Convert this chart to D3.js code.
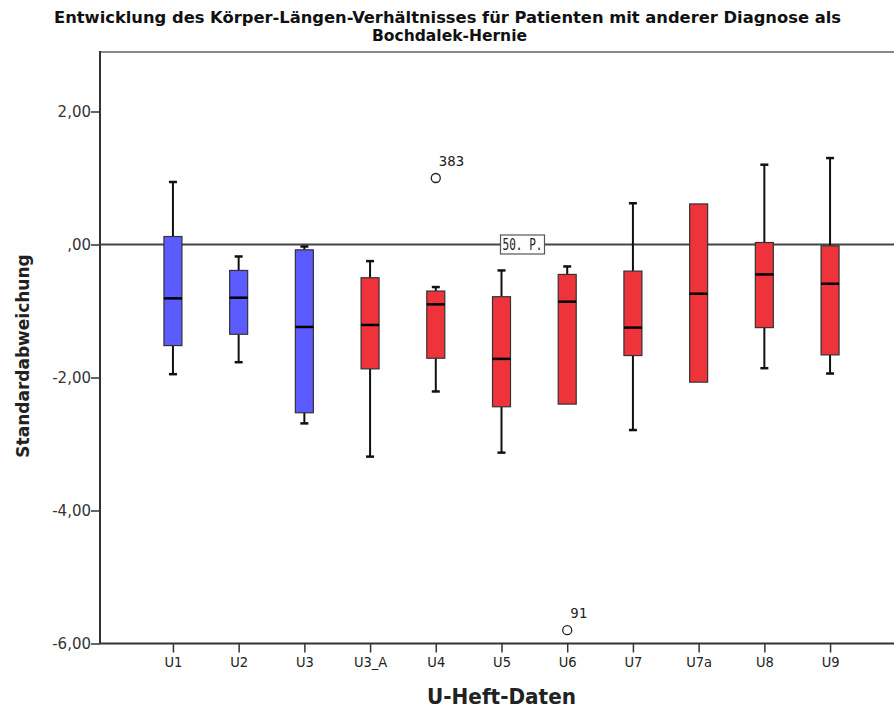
<!DOCTYPE html>
<html>
<head>
<meta charset="utf-8">
<script src="https://cdn.jsdelivr.net/npm/d3@7"></script>
<style>
  body { margin: 0; background: #fff; }
  svg { display: block; }
</style>
</head>
<body>
<div id="chart"></div>
<script>
// categories and box statistics
var categories = ["U1", "U2", "U3", "U3_A", "U4", "U5", "U6", "U7", "U7a", "U8", "U9"];
var whiskerLow  = [-1.95, -1.77, -2.69, -3.19, -2.21, -3.13, -2.40, -2.79, -2.07, -1.86, -1.94];
var q1          = [-1.52, -1.35, -2.53, -1.87, -1.71, -2.44, -2.40, -1.67, -2.07, -1.25, -1.66];
var median      = [-0.81, -0.80, -1.24, -1.21, -0.90, -1.72, -0.86, -1.25, -0.74, -0.45, -0.59];
var q3          = [ 0.12, -0.39, -0.08, -0.50, -0.70, -0.785, -0.45, -0.40, 0.61, 0.03, -0.02];
var whiskerHigh = [ 0.94, -0.18, -0.03, -0.25, -0.64, -0.39, -0.33, 0.62, 0.61, 1.20, 1.30];
var boxColor    = ["blue", "blue", "blue", "red", "red", "red", "red", "red", "red", "red", "red"];

// outliers
var outlierCat = ["U4", "U6"];
var outlierVal = [1.00, -5.80];
var outlierLabel = ["383", "91"];

var yTicks = [2, 0, -2, -4, -6];
var yTickLabels = ["2,00", ",00", "-2,00", "-4,00", "-6,00"];
var refValue = 0;

var W = 894, H = 711;
var margin = { top: 52, right: -9, bottom: 67, left: 100 };
var colors = { blue: "#5b5bff", red: "#ef333b" };

var svg = d3.select("#chart").append("svg")
    .attr("width", W)
    .attr("height", H);

var x = d3.scalePoint()
    .domain(categories)
    .range([margin.left, W - margin.right])
    .padding(1.11);

var y = d3.scaleLinear()
    .domain([-6, 2])
    .range([643.5, 111.5]);

// frame: top line + axes
svg.append("line")
    .attr("x1", margin.left).attr("x2", W)
    .attr("y1", margin.top).attr("y2", margin.top)
    .attr("stroke", "#888").attr("stroke-width", 2);

// y axis
var yAxis = svg.append("g")
    .attr("transform", "translate(" + margin.left + ",0)")
    .call(d3.axisLeft(y).tickValues(yTicks).tickSize(9)
        .tickFormat(function (d, i) { return yTickLabels[i]; }));
yAxis.select(".domain").remove();
yAxis.selectAll(".tick line").attr("stroke", "#333").attr("stroke-width", 1.5);
yAxis.selectAll(".tick text")
    .attr("font-family", "'DejaVu Sans', sans-serif")
    .attr("font-size", 15)
    .attr("fill", "#333")
    .attr("x", -9);
svg.append("line")
    .attr("x1", margin.left).attr("x2", margin.left)
    .attr("y1", margin.top - 1).attr("y2", y(-6))
    .attr("stroke", "#333").attr("stroke-width", 2);

// x axis
var xAxis = svg.append("g")
    .attr("transform", "translate(0," + y(-6) + ")")
    .call(d3.axisBottom(x).tickSize(9).tickSizeOuter(0));
xAxis.select(".domain").attr("stroke", "#333").attr("stroke-width", 2)
    .attr("d", "M" + margin.left + ",0H" + W);
xAxis.selectAll(".tick line").attr("stroke", "#333").attr("stroke-width", 1.5);
xAxis.selectAll(".tick text")
    .attr("font-family", "'DejaVu Sans Condensed', sans-serif")
    .attr("font-stretch", "condensed")
    .attr("font-size", 14.5)
    .attr("fill", "#222")
    .attr("y", 13);

// reference line at 0 (50. percentile)
svg.append("line")
    .attr("x1", margin.left).attr("x2", W)
    .attr("y1", y(refValue)).attr("y2", y(refValue))
    .attr("stroke", "#444").attr("stroke-width", 2);

// boxes
var boxW = 18, capW = 8;
categories.forEach(function (c, i) {
    var cx = x(c);
    var g = svg.append("g");
    // whiskers
    if (whiskerHigh[i] > q3[i]) {
        g.append("line").attr("x1", cx).attr("x2", cx)
            .attr("y1", y(q3[i])).attr("y2", y(whiskerHigh[i]))
            .attr("stroke", "#111").attr("stroke-width", 2);
        g.append("line").attr("x1", cx - capW / 2).attr("x2", cx + capW / 2)
            .attr("y1", y(whiskerHigh[i])).attr("y2", y(whiskerHigh[i]))
            .attr("stroke", "#111").attr("stroke-width", 2.5);
    }
    if (whiskerLow[i] < q1[i]) {
        g.append("line").attr("x1", cx).attr("x2", cx)
            .attr("y1", y(q1[i])).attr("y2", y(whiskerLow[i]))
            .attr("stroke", "#111").attr("stroke-width", 2);
        g.append("line").attr("x1", cx - capW / 2).attr("x2", cx + capW / 2)
            .attr("y1", y(whiskerLow[i])).attr("y2", y(whiskerLow[i]))
            .attr("stroke", "#111").attr("stroke-width", 2.5);
    }
    g.append("rect")
        .attr("x", cx - boxW / 2)
        .attr("y", y(q3[i]))
        .attr("width", boxW)
        .attr("height", y(q1[i]) - y(q3[i]))
        .attr("fill", colors[boxColor[i]])
        .attr("stroke", "#333")
        .attr("stroke-width", 1.2);
    g.append("line")
        .attr("x1", cx - boxW / 2).attr("x2", cx + boxW / 2)
        .attr("y1", y(median[i])).attr("y2", y(median[i]))
        .attr("stroke", "#000").attr("stroke-width", 2.5);
});

// "50. P." label on the reference line
var refLab = svg.append("g")
    .attr("transform", "translate(" + (x("U5") - 1) + "," + y(refValue) + ")");
refLab.append("rect")
    .attr("x", 0).attr("y", -9.5).attr("width", 44).attr("height", 19)
    .attr("fill", "#fff").attr("stroke", "#555").attr("stroke-width", 1.2);
refLab.append("text")
    .attr("x", 2).attr("y", 5.5)
    .attr("textLength", 40).attr("lengthAdjust", "spacingAndGlyphs")
    .attr("font-family", "'DejaVu Sans Mono', monospace")
    .attr("font-size", 15)
    .attr("fill", "#222")
    .text("50. P.");

// outliers
outlierCat.forEach(function (c, i) {
    svg.append("circle")
        .attr("cx", x(c)).attr("cy", y(outlierVal[i]))
        .attr("r", 4.5)
        .attr("fill", "#fff").attr("stroke", "#222").attr("stroke-width", 1.3);
    svg.append("text")
        .attr("x", x(c) + 3).attr("y", y(outlierVal[i]) - 12)
        .attr("font-family", "'DejaVu Sans Mono', monospace")
        .attr("font-size", 14)
        .attr("fill", "#222")
        .text(outlierLabel[i]);
});

// titles
var titleFont = "'DejaVu Sans Condensed', sans-serif";
svg.append("text")
    .attr("x", 54).attr("y", 23)
    .attr("textLength", 787).attr("lengthAdjust", "spacingAndGlyphs")
    .attr("font-family", titleFont).attr("font-stretch", "condensed")
    .attr("font-weight", "bold").attr("font-size", 16.5)
    .attr("fill", "#111")
    .text("Entwicklung des Körper-Längen-Verhältnisses für Patienten mit anderer Diagnose als");
svg.append("text")
    .attr("x", 372).attr("y", 41)
    .attr("textLength", 155).attr("lengthAdjust", "spacingAndGlyphs")
    .attr("font-family", titleFont).attr("font-stretch", "condensed")
    .attr("font-weight", "bold").attr("font-size", 16.5)
    .attr("fill", "#111")
    .text("Bochdalek-Hernie");

svg.append("text")
    .attr("x", 427).attr("y", 704)
    .attr("textLength", 149).attr("lengthAdjust", "spacingAndGlyphs")
    .attr("font-family", titleFont).attr("font-stretch", "condensed")
    .attr("font-weight", "bold").attr("font-size", 21)
    .attr("fill", "#222")
    .text("U-Heft-Daten");

svg.append("text")
    .attr("transform", "translate(29,356) rotate(-90)")
    .attr("text-anchor", "middle")
    .attr("font-family", "'DejaVu Sans', sans-serif")
    .attr("font-weight", "bold").attr("font-size", 17)
    .attr("fill", "#222")
    .text("Standardabweichung");
</script>
</body>
</html>
